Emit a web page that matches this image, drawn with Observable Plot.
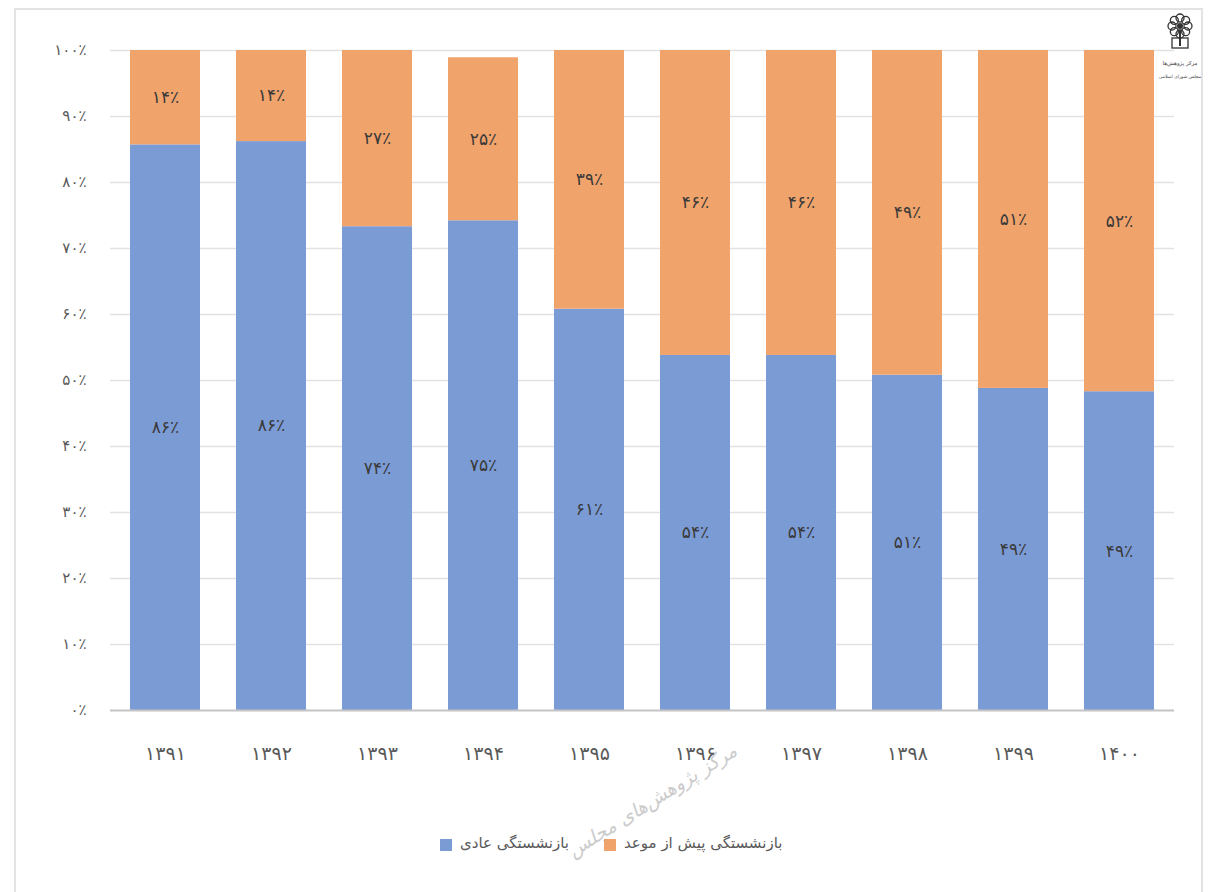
<!DOCTYPE html>
<html>
<head>
<meta charset="utf-8">
<script src="https://cdn.jsdelivr.net/npm/d3@7"></script>
<script src="https://cdn.jsdelivr.net/npm/@observablehq/plot@0.6"></script>
<style>
  html, body { margin: 0; padding: 0; background: #fff; }
  #wrap { position: relative; width: 1217px; height: 892px; overflow: hidden; font-family: "DejaVu Sans", sans-serif; }
  #frame { position: absolute; left: 14px; top: 8px; width: 1189px; height: 900px; border: 2px solid #e3e3e3; box-sizing: border-box; }
  #chart { position: absolute; left: 0; top: 0; }
  #legend { position: absolute; top: 834px; left: 0; width: 1217px; height: 24px; font-size: 15px; color: #595959; }
  .sw { position: absolute; top: 5px; width: 12px; height: 12px; }
  .lt { position: absolute; top: 0; direction: rtl; white-space: nowrap; }
  #wm { position: absolute; left: 652px; top: 800px; transform: translate(-50%, -50%) rotate(-32deg); font-size: 19px; color: #aaa; opacity: 0.6; font-style: italic; direction: rtl; white-space: nowrap; }
  #logo { position: absolute; left: 1158px; top: 10px; }
</style>
</head>
<body>
<div id="wrap">
  <div id="frame"></div>
  <div id="chart"></div>
  <div id="legend"></div>
  <div id="wm"></div>
  <svg id="logo" width="44" height="84" viewBox="0 0 44 84"></svg>
</div>
<script>
// ---- data ----
const years = ["۱۳۹۱", "۱۳۹۲", "۱۳۹۳", "۱۳۹۴", "۱۳۹۵", "۱۳۹۶", "۱۳۹۷", "۱۳۹۸", "۱۳۹۹", "۱۴۰۰"];
const seriesNames = ["بازنشستگی عادی", "بازنشستگی پیش از موعد"];
const regularValues = [85.7, 86.2, 73.3, 74.2, 60.8, 53.8, 53.8, 50.8, 48.8, 48.3];
const earlyValues = [14.3, 13.8, 26.7, 24.7, 39.2, 46.2, 46.2, 49.2, 51.2, 51.7];
const regularLabels = [86, 86, 74, 75, 61, 54, 54, 51, 49, 49];
const earlyLabels = [14, 14, 27, 25, 39, 46, 46, 49, 51, 52];
const yTicks = [0, 10, 20, 30, 40, 50, 60, 70, 80, 90, 100];
const seriesColors = ["#7b9bd5", "#f0a36b"];
const watermarkText = "مرکز پژوهش‌های مجلس";

const fa = n => String(n).replace(/\d/g, d => "۰۱۲۳۴۵۶۷۸۹"[d]);
const pct = n => fa(n) + "٪";

const rows = [];
years.forEach((y, i) => {
  rows.push({year: y, series: seriesNames[0], value: regularValues[i], label: pct(regularLabels[i])});
  rows.push({year: y, series: seriesNames[1], value: earlyValues[i], label: pct(earlyLabels[i])});
});

const chart = Plot.plot({
  width: 1217,
  height: 780,
  marginTop: 50,
  marginBottom: 70,
  marginLeft: 110,
  marginRight: 43,
  style: {fontFamily: "DejaVu Sans, sans-serif", color: "#595959", background: "transparent"},
  x: {domain: years, paddingInner: 0.342, paddingOuter: 0.16, label: null},
  y: {domain: [0, 100], label: null},
  color: {domain: seriesNames, range: seriesColors},
  marks: [
    Plot.ruleY(yTicks.filter(t => t > 0), {stroke: "#e2e2e2", strokeWidth: 1.5}),
    Plot.barY(rows, {x: "year", y: "value", fill: "series", z: "series", order: seriesNames}),
    Plot.ruleY([0], {stroke: "#c4c4c4", strokeWidth: 2}),
    Plot.text(rows, Plot.stackY({x: "year", y: "value", z: "series", text: "label", order: seriesNames, fill: "#3a3a3a", fontSize: 17})),
    Plot.axisY({ticks: yTicks, tickSize: 0, tickPadding: 24, fontSize: 15, tickFormat: pct, label: null}),
    Plot.axisX({tickSize: 0, tickPadding: 36, fontSize: 19, label: null})
  ]
});
document.getElementById("chart").appendChild(chart);

// legend
const legend = document.getElementById("legend");
const items = [
  {sw: 440, tx: 460, i: 0},
  {sw: 604, tx: 624, i: 1}
];
items.forEach(it => {
  const s = document.createElement("div");
  s.className = "sw"; s.style.left = it.sw + "px"; s.style.background = seriesColors[it.i];
  legend.appendChild(s);
  const t = document.createElement("div");
  t.className = "lt"; t.style.left = it.tx + "px"; t.textContent = seriesNames[it.i];
  legend.appendChild(t);
});

document.getElementById("wm").textContent = watermarkText;

// logo (decorative)
const logo = d3.select("#logo");
const cx = 22, cy = 16;
d3.range(8).forEach(k => {
  const a = k / 8 * 2 * Math.PI;
  logo.append("circle").attr("cx", cx + 8 * Math.cos(a)).attr("cy", cy + 8 * Math.sin(a)).attr("r", 4).attr("fill", "none").attr("stroke", "#333").attr("stroke-width", 1.3);
});
logo.append("circle").attr("cx", cx).attr("cy", cy).attr("r", 3).attr("fill", "#333");
logo.append("rect").attr("x", 14).attr("y", 28).attr("width", 16).attr("height", 10).attr("fill", "none").attr("stroke", "#333").attr("stroke-width", 1.3);
logo.append("line").attr("x1", 22).attr("x2", 22).attr("y1", 20).attr("y2", 36).attr("stroke", "#333").attr("stroke-width", 2);
logo.append("text").attr("x", 22).attr("y", 55).attr("text-anchor", "middle").attr("font-size", 5.5).attr("fill", "#444").text("مرکز پژوهش‌ها");
logo.append("text").attr("x", 22).attr("y", 68).attr("text-anchor", "middle").attr("font-size", 4.5).attr("fill", "#444").text("مجلس شورای اسلامی");
</script>
</body>
</html>
